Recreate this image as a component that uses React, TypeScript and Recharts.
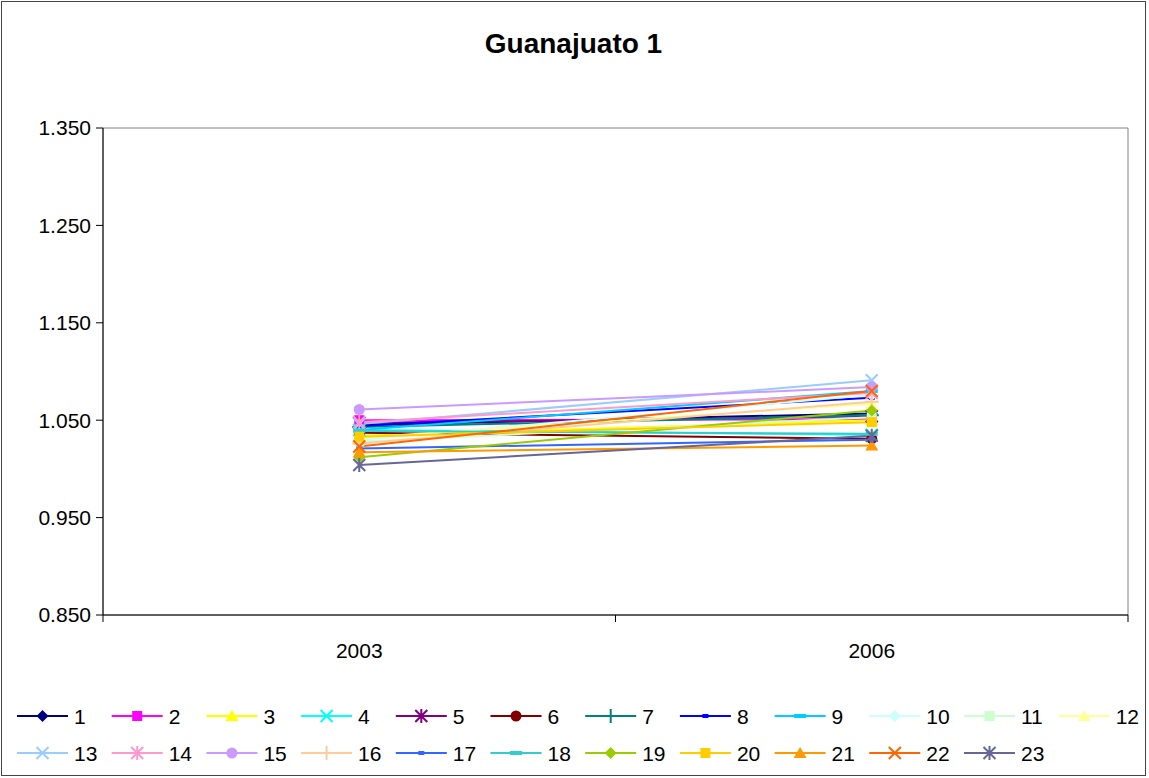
import React from "react"
import { LineChart, Line, XAxis, YAxis, ReferenceArea } from "recharts"

const years = ["2003", "2006"]
const seriesNames = ["1", "2", "3", "4", "5", "6", "7", "8", "9", "10", "11", "12", "13", "14", "15", "16", "17", "18", "19", "20", "21", "22", "23"]
const seriesColors = [
  "#000080", "#FF00FF", "#FFFF00", "#00FFFF", "#800080", "#800000", "#008080", "#0000FF",
  "#00CCFF", "#CCFFFF", "#CCFFCC", "#FFFF99", "#99CCFF", "#FF99CC", "#CC99FF", "#FFCC99",
  "#3366FF", "#33CCCC", "#99CC00", "#FFCC00", "#FF9900", "#FF6600", "#666699",
]
const seriesShapes = [
  "diamond", "square", "triangle", "x", "star", "circle", "plus", "shortdash", "dash",
  "diamond", "square", "triangle", "x", "star", "circle", "plus", "shortdash", "dash",
  "diamond", "square", "triangle", "x", "star",
]
const values2003 = [1.045, 1.05, 1.034, 1.04, 1.047, 1.037, 1.043, 1.044, 1.04, 1.03, 1.028, 1.032, 1.046, 1.048, 1.061, 1.026, 1.021, 1.039, 1.012, 1.033, 1.017, 1.023, 1.004]
const values2006 = [1.057, 1.051, 1.05, 1.035, 1.054, 1.031, 1.055, 1.073, 1.08, 1.076, 1.053, 1.067, 1.091, 1.078, 1.084, 1.069, 1.03, 1.036, 1.06, 1.048, 1.024, 1.08, 1.034]
const yTicks = [0.85, 0.95, 1.05, 1.15, 1.25, 1.35]

const seriesValues = [values2003, values2006]
const data = years.map((year, i) => {
  const row: Record<string, number | string> = { x: i + 0.5, year }
  seriesNames.forEach((n, k) => {
    row["s" + n] = seriesValues[i][k]
  })
  return row
})

const FONT = "Arial, 'Liberation Sans', sans-serif"
const TICK_FONT = 21

function Marker({ shape, color, cx, cy }: { shape: string; color: string; cx: number; cy: number }) {
  switch (shape) {
    case "diamond":
      return <polygon points={`${cx},${cy - 6} ${cx + 6},${cy} ${cx},${cy + 6} ${cx - 6},${cy}`} fill={color} />
    case "square":
      return <rect x={cx - 5} y={cy - 5} width={10} height={10} fill={color} />
    case "triangle":
      return <polygon points={`${cx},${cy - 6} ${cx + 6.5},${cy + 5} ${cx - 6.5},${cy + 5}`} fill={color} />
    case "x":
      return (
        <path d={`M${cx - 6},${cy - 6}L${cx + 6},${cy + 6}M${cx + 6},${cy - 6}L${cx - 6},${cy + 6}`} stroke={color} strokeWidth={2} fill="none" />
      )
    case "star":
      return (
        <path
          d={`M${cx - 6},${cy - 6}L${cx + 6},${cy + 6}M${cx + 6},${cy - 6}L${cx - 6},${cy + 6}M${cx},${cy - 7}L${cx},${cy + 7}`}
          stroke={color}
          strokeWidth={2}
          fill="none"
        />
      )
    case "circle":
      return <circle cx={cx} cy={cy} r={5.5} fill={color} />
    case "plus":
      return <path d={`M${cx - 7},${cy}L${cx + 7},${cy}M${cx},${cy - 7}L${cx},${cy + 7}`} stroke={color} strokeWidth={2} fill="none" />
    case "shortdash":
      return <rect x={cx - 3} y={cy - 2} width={6} height={4} fill={color} />
    case "dash":
      return <rect x={cx - 6} y={cy - 2} width={12} height={4} fill={color} />
    default:
      return null
  }
}

function XTick(props: any) {
  const { x, y, payload } = props
  const v = payload.value
  if (Number.isInteger(v)) {
    return <line x1={x} y1={y} x2={x} y2={y + 7} stroke="#000" strokeWidth={1} />
  }
  return (
    <text x={x} y={y + 43} textAnchor="middle" fill="#000" fontSize={TICK_FONT} fontFamily={FONT}>
      {years[Math.floor(v)]}
    </text>
  )
}

function ChartLegend() {
  return (
    <svg width={1143} height={90} style={{ position: "absolute", left: 0, top: 690 }}>
      {seriesNames.map((name, i) => {
        const row = i < 12 ? 0 : 1
        const col = i < 12 ? i : i - 12
        const x0 = 15 + col * 94.7
        const y0 = row === 0 ? 24 : 61
        return (
          <g key={name}>
            <line x1={x0} y1={y0} x2={x0 + 51} y2={y0} stroke={seriesColors[i]} strokeWidth={2} />
            <Marker shape={seriesShapes[i]} color={seriesColors[i]} cx={x0 + 25.5} cy={y0} />
            <text x={x0 + 57} y={y0 + 8} fontSize={TICK_FONT} fontFamily={FONT} fill="#000">
              {name}
            </text>
          </g>
        )
      })}
    </svg>
  )
}

export default function App() {
  return (
    <div
      style={{
        position: "absolute",
        left: 1,
        top: 1,
        width: 1145,
        height: 775,
        boxSizing: "border-box",
        border: "1px solid #444",
        background: "#fff",
      }}
    >
      <div
        style={{
          position: "absolute",
          left: 0,
          width: 1143,
          top: 26,
          textAlign: "center",
          fontFamily: FONT,
          fontWeight: "bold",
          fontSize: 28,
          color: "#000",
        }}
      >
        Guanajuato 1
      </div>
      <LineChart width={1143} height={773} data={data} margin={{ top: 126, right: 17, bottom: 0, left: 0 }}>
        <XAxis
          type="number"
          dataKey="x"
          domain={[0, 2]}
          ticks={[0, 0.5, 1, 1.5, 2]}
          interval={0}
          tick={<XTick />}
          tickLine={false}
          tickSize={0}
          tickMargin={0}
          height={160}
          axisLine={{ stroke: "#000" }}
        />
        <YAxis
          type="number"
          domain={[0.85, 1.35]}
          ticks={yTicks}
          interval={0}
          width={101}
          tickSize={7}
          tickMargin={5}
          tickFormatter={(v: number) => v.toFixed(3)}
          tick={{ fill: "#000", fontSize: TICK_FONT, fontFamily: FONT }}
          tickLine={{ stroke: "#000" }}
          axisLine={{ stroke: "#000" }}
        />
        <ReferenceArea x1={0} x2={2} y1={0.85} y2={1.35} fill="none" stroke="#808080" strokeWidth={1} ifOverflow="visible" />
        {seriesNames.map((name, i) => (
          <Line
            key={name}
            type="linear"
            dataKey={"s" + name}
            name={name}
            stroke={seriesColors[i]}
            strokeWidth={2}
            isAnimationActive={false}
            dot={(p: any) => (
              <Marker key={`${name}-${p.index}`} shape={seriesShapes[i]} color={seriesColors[i]} cx={p.cx} cy={p.cy} />
            )}
            activeDot={false}
          />
        ))}
      </LineChart>
      <ChartLegend />
    </div>
  )
}
